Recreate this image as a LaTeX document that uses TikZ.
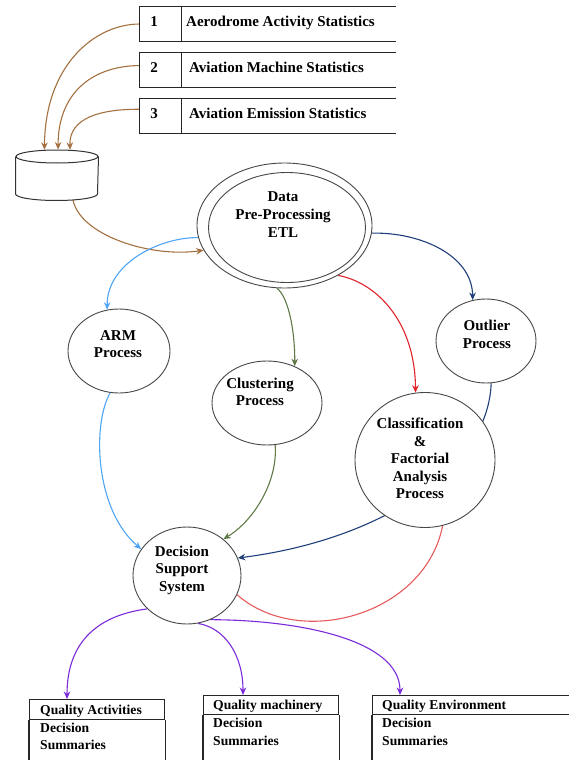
\documentclass[tikz,border=0pt]{standalone}
\usepackage{fontspec}
\setmainfont{Liberation Serif}
\usetikzlibrary{shapes.geometric,arrows.meta,backgrounds,calc}

\definecolor{cBrown}{HTML}{A57040}
\definecolor{cBlue}{HTML}{4EA5F5}
\definecolor{cNavy}{HTML}{203F7A}
\definecolor{cRed}{HTML}{E0242C}
\definecolor{cRedL}{HTML}{E65A5A}
\definecolor{cGreen}{HTML}{5F7A45}
\definecolor{cPurple}{HTML}{7B2BD9}

\begin{document}
\begin{tikzpicture}[x=1pt,y=-1pt,
  every node/.style={font=\bfseries\fontsize{15}{17.5}\selectfont, text=black},
  bubble/.style={ellipse, draw=black!72, line width=0.9pt, fill=white, inner sep=0pt},
  lbl/.style={align=center, inner sep=0pt},
  flow/.style={line width=1.1pt, -{Stealth[length=7.5pt,width=6.5pt]}},
  boxline/.style={line width=1.2pt, draw=black!85},
  qtitle/.style={font=\bfseries\fontsize{13.6}{17.5}\selectfont, anchor=base west, inner sep=0pt},
  qbody/.style={font=\bfseries\fontsize{13.6}{17.5}\selectfont, anchor=west, align=left, inner sep=0pt},
  qbox/.style={boxline, draw, anchor=north west, inner sep=0pt, minimum width=135pt}]

\useasboundingbox (0,0) rectangle (569,760);

% ---- statistics sources (boxes open on the right) ----
\foreach \k/\yc in {1/24, 2/70, 3/116} {
  \node[minimum width=256pt, minimum height=34pt, inner sep=0pt] (s\k) at (268,\yc) {};
  \draw[boxline] (s\k.north east) -- (s\k.north west) -- (s\k.south west) -- (s\k.south east);
  \draw[boxline] ($(s\k.north west)+(42,0)$) -- ($(s\k.south west)+(42,0)$);
}
\node[anchor=base, inner sep=0pt] (n1) at (154,27) {1};
\node[anchor=base, inner sep=0pt] (n2) at (154,73) {2};
\node[anchor=base, inner sep=0pt] (n3) at (154,118) {3};
\node[anchor=base west, inner sep=0pt] (t1) at (186,27) {Aerodrome Activity Statistics};
\node[anchor=base west, inner sep=0pt] (t2) at (189,73) {Aviation Machine Statistics};
\node[anchor=base west, inner sep=0pt] (t3) at (189,118) {Aviation Emission Statistics};

% ---- data store (cylinder) ----
\node[ellipse, draw=black!80, line width=1pt, inner sep=0pt,
      minimum width=82pt, minimum height=13pt] (dbtop) at (57,156.5) {};
\draw[black!80, line width=1pt] (dbtop.west) -- ++(0,37.5)
  arc[start angle=180, end angle=360, x radius=41pt, y radius=6.5pt] -- (dbtop.east);
\coordinate (dbout) at (73,200);

% ---- processes ----
\node[bubble, minimum width=175pt, minimum height=125pt] (dataO) at (284.5,225.5) {};
\node[bubble, fill=none, minimum width=157pt, minimum height=110pt] (dataI) at (287,227.5) {};
\node[lbl, font=\bfseries\fontsize{15}{18}\selectfont] (dataT) at (283,215) {Data\\Pre-Processing\\ETL};

\node[bubble, minimum width=102pt, minimum height=84pt] (arm) at (119,351) {};
\node[lbl] (armT) at (118,344) {ARM\\Process};

\node[bubble, minimum width=110pt, minimum height=84pt] (clus) at (267,403) {};
\node[lbl] (clusT) at (260,392) {Clustering\\Process};

\node[bubble, minimum width=100pt, minimum height=84pt] (outl) at (486,341) {};
\node[lbl] (outlT) at (487,334.5) {Outlier\\Process};

\node[bubble, minimum width=140pt, minimum height=135pt] (cls) at (425,460) {};
\node[lbl] (clsT) at (420,458.5) {Classification\\\&\\Factorial\\Analysis\\Process};

\node[bubble, minimum width=108pt, minimum height=97pt] (dss) at (187,575.5) {};
\node[lbl] (dssT) at (182,570) {Decision\\Support\\System};

% ---- decision summaries (boxes run off the bottom) ----
\node[qbox, minimum height=20pt] (q1) at (29,699) {};
\draw[boxline] (q1.south west) -- ++(0,45);
\draw[boxline] (q1.south east) -- ++(0,45);
\node[qtitle] (q1a) at (40,714.5) {Quality Activities};
\node[qbody] (q1b) at (40,736.5) {Decision\\Summaries};

\node[qbox, minimum height=19pt] (q2) at (203,695) {};
\draw[boxline] (q2.south west) -- ++(0,50);
\draw[boxline] (q2.south east) -- ++(0,50);
\node[qtitle] (q2a) at (213,709.5) {Quality machinery};
\node[qbody] (q2b) at (213,732) {Decision\\Summaries};

\node[qbox, minimum height=19pt, minimum width=203pt] (q3) at (372,695) {};
\draw[boxline] (q3.south west) -- ++(0,50);
\node[qtitle] (q3a) at (382,709.5) {Quality Environment};
\node[qbody] (q3b) at (382,732) {Decision\\Summaries};

% ---- flows ----
\begin{pgfonlayer}{background}
\draw[flow, cBrown] (s1.west) .. controls (95,24) and (45,65) .. (dbtop.152);
\draw[flow, cBrown] (s2.178) .. controls (90,66) and (58,95) .. (dbtop.81);
\draw[flow, cBrown] (s3.177) .. controls (100,109) and (69,118) .. (dbtop.27);
\draw[flow, cBrown] (dbout) .. controls (80,235) and (150,258) .. (dataO.197);

\draw[flow, cBlue] (dataO.188) .. controls (162,237) and (107,262) .. (arm.106);
\draw[flow, cNavy] (dataO.355) .. controls (420,232) and (472,255) .. (outl.108);
\draw[flow, cRed] (dataO.317) .. controls (375,282) and (415,320) .. (cls.98);
\draw[flow, cGreen] (dataO.263) .. controls (288,296) and (295,330) .. (clus.53);

\draw[flow, cBlue] (arm.258) .. controls (92,425) and (95,510) .. (dss.150);
\draw[flow, cGreen] (clus.281) .. controls (278,480) and (255,520) .. (dss.45);
\draw[flow, cNavy] (outl.277) .. controls (488,470) and (380,540) .. (dss.19);
\draw[line width=1.1pt, cRedL] (cls.285) .. controls (425,615) and (300,650) .. (dss.339);

\draw[flow, cPurple] (dss.220) .. controls (100,615) and (67,640) .. ($(q1.north west)+(38,0)$);
\draw[flow, cPurple] (dss.283) .. controls (225,628) and (243,655) .. ($(q2.north west)+(40,0)$);
\draw[flow, cPurple] (dss.298) .. controls (300,620) and (400,640) .. ($(q3.north west)+(28,0)$);
\end{pgfonlayer}
\end{tikzpicture}
\end{document}
